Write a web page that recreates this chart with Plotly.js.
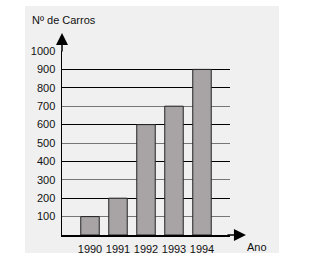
<!DOCTYPE html>
<html><head><meta charset="utf-8">
<script src="https://cdn.plot.ly/plotly-3.0.1.min.js"></script>
<style>html,body{margin:0;padding:0;background:#fff;}#chart{width:323px;height:265px;}</style>
</head><body><div id="chart"></div>
<script>
const years = ['1990', '1991', '1992', '1993', '1994'];
const cars = [100, 200, 600, 700, 900];
const yTicks = [100, 200, 300, 400, 500, 600, 700, 800, 900, 1000];
const grayGrid = [100, 300, 500, 700, 1000];
const blackGrid = [200, 400, 600, 800, 900];
const yTitle = 'Nº de Carros';
const xTitle = 'Ano';

const font = {family: 'Liberation Sans, Arial, sans-serif', size: 11, color: '#111'};

const traces = [
  {type: 'bar', x: years, y: cars, marker: {color: '#a8a4a6', line: {color: '#222', width: 1}},
   hoverinfo: 'none'},
  {type: 'bar', x: [], y: [], yaxis: 'y2', hoverinfo: 'none', showlegend: false},
  {type: 'bar', x: [], y: [], yaxis: 'y3', hoverinfo: 'none', showlegend: false}
];

const layout = {
  width: 323, height: 265,
  margin: {l: 62, r: 93, t: 51, b: 30},
  paper_bgcolor: '#ffffff', plot_bgcolor: 'rgba(0,0,0,0)',
  showlegend: false, bargap: 0.34, font: font,
  xaxis: {type: 'category', range: [-1, 5], fixedrange: true, showgrid: false, zeroline: false,
          showline: true, linecolor: '#000', linewidth: 1.5, ticks: '', ticklabelstandoff: 3,
          tickfont: font},
  yaxis: {range: [0, 1000], fixedrange: true, tickmode: 'array', tickvals: yTicks,
          ticktext: yTicks.map(String), showgrid: false, zeroline: false,
          showline: true, linecolor: '#000', linewidth: 1.5, ticks: '', ticklabelstandoff: 3,
          tickfont: font},
  yaxis2: {overlaying: 'y', range: [0, 1000], fixedrange: true, tickmode: 'array', tickvals: grayGrid,
           showticklabels: false, showgrid: true, gridcolor: '#777', gridwidth: 1, zeroline: false, showline: false},
  yaxis3: {overlaying: 'y', range: [0, 1000], fixedrange: true, tickmode: 'array', tickvals: blackGrid,
           showticklabels: false, showgrid: true, gridcolor: '#000', gridwidth: 1.2, zeroline: false, showline: false},
  shapes: [
    {type: 'rect', xref: 'paper', yref: 'paper', x0: -0.22, x1: 1.292, y0: -0.098, y1: 1.245,
     fillcolor: '#f0f0f0', line: {width: 0}, layer: 'below'}
  ],
  annotations: [
    {xref: 'paper', yref: 'paper', x: 0, y: 1.098, ax: 0, ay: 20, text: '', showarrow: true,
     arrowhead: 2, arrowsize: 1.6, arrowwidth: 1.5, arrowcolor: '#000'},
    {xref: 'paper', yref: 'paper', x: 1.095, y: 0, ax: -20, ay: 0, text: '', showarrow: true,
     arrowhead: 2, arrowsize: 1.6, arrowwidth: 1.5, arrowcolor: '#000'},
    {xref: 'paper', yref: 'paper', x: -0.19, y: 1.168, xanchor: 'left', yanchor: 'middle',
     text: yTitle, showarrow: false, font: font},
    {xref: 'paper', yref: 'paper', x: 1.089, y: -0.065, xanchor: 'left', yanchor: 'middle',
     text: xTitle, showarrow: false, font: font}
  ]
};

Plotly.newPlot('chart', traces, layout, {staticPlot: true, displayModeBar: false});
</script></body></html>
